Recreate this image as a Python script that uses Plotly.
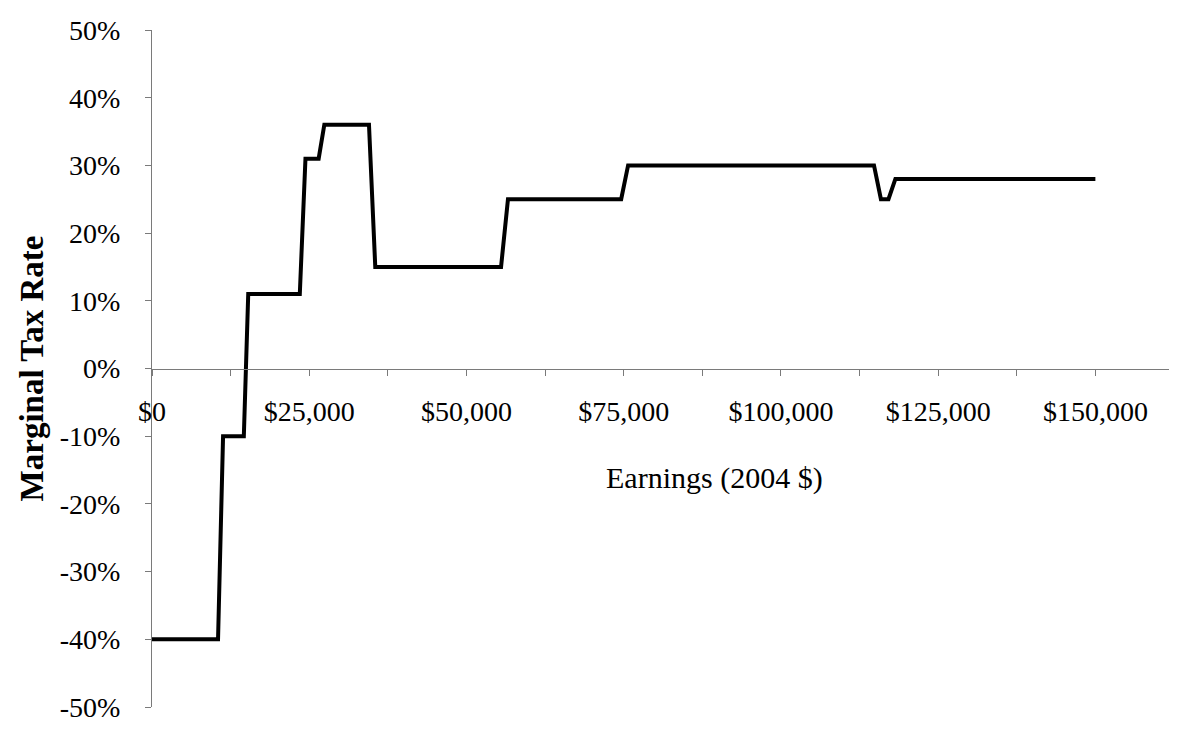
import plotly.graph_objects as go

# Earnings (2004 $) and marginal tax rate (%)
earnings = [0, 10500, 11300, 14600, 15300, 23500, 24400, 26500, 27400, 34500,
            35500, 55500, 56600, 74600, 75700, 114800, 115900, 117100, 118200, 150000]
tax_rate = [-40, -40, -10, -10, 11, 11, 31, 31, 36, 36,
            15, 15, 25, 25, 30, 30, 25, 25, 28, 28]

x_tickvals = [0, 25000, 50000, 75000, 100000, 125000, 150000]
x_ticktext = ["$0", "$25,000", "$50,000", "$75,000", "$100,000", "$125,000", "$150,000"]
y_tickvals = [-50, -40, -30, -20, -10, 0, 10, 20, 30, 40, 50]
y_ticktext = ["-50%", "-40%", "-30%", "-20%", "-10%", "0%", "10%", "20%", "30%", "40%", "50%"]

FONT = "Liberation Serif"
AXIS_COLOR = "#7a7a7a"

fig = go.Figure()
fig.add_trace(go.Scatter(
    x=earnings, y=tax_rate, mode="lines",
    line=dict(color="black", width=4),
    showlegend=False, hoverinfo="skip",
))

fig.update_layout(
    width=1177, height=730,
    margin=dict(l=144, r=11, t=7, b=31),
    paper_bgcolor="white", plot_bgcolor="white",
    font=dict(family=FONT, size=28, color="black"),
    xaxis=dict(
        range=[0, 162500],
        anchor="free", position=0.5,
        showgrid=False, zeroline=False,
        showline=True, linecolor=AXIS_COLOR, linewidth=1,
        tickvals=x_tickvals, ticktext=x_ticktext,
        ticks="outside", ticklen=6, tickcolor=AXIS_COLOR, tickwidth=1,
        minor=dict(dtick=12500, tick0=0, ticks="outside", ticklen=6,
                   tickcolor=AXIS_COLOR, tickwidth=1, showgrid=False),
        tickfont=dict(family=FONT, size=28, color="black"),
        ticklabelstandoff=12,
        ticklabeloverflow="allow",
    ),
    yaxis=dict(
        range=[-50, 50],
        showgrid=False, zeroline=False,
        showline=True, linecolor=AXIS_COLOR, linewidth=1,
        tickvals=y_tickvals, ticktext=y_ticktext,
        ticks="outside", ticklen=6, tickcolor=AXIS_COLOR, tickwidth=1,
        tickfont=dict(family=FONT, size=28, color="black"),
        ticklabelstandoff=19,
        ticklabeloverflow="allow",
        title=dict(text="<b>Marginal Tax Rate</b>",
                   font=dict(family=FONT, size=33, color="black"), standoff=6),
    ),
    annotations=[dict(
        text="Earnings (2004 $)", xref="paper", yref="paper",
        x=(714 - 152) / 1022, y=(707 - 473) / 692,
        xanchor="center", yanchor="middle", showarrow=False,
        font=dict(family=FONT, size=30, color="black"),
    )],
)

fig.write_html("out.html")
